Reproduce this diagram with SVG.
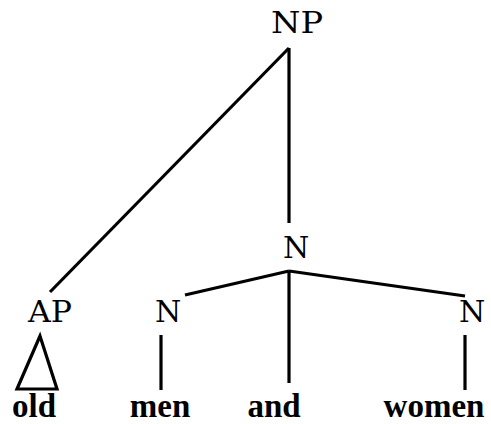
<svg xmlns="http://www.w3.org/2000/svg" width="491" height="424" viewBox="0 0 491 424">
<style>
text{font-family:"DejaVu Serif","Liberation Serif",serif;font-size:30px;fill:#000;text-anchor:middle}
.w{font-family:"Liberation Serif","DejaVu Serif",serif;font-weight:bold;font-size:33px}
.e{stroke:#000;stroke-width:3.2;fill:none;stroke-linecap:butt}
</style>
<rect width="491" height="424" fill="#fff"/>
<g id="connectors">
<line class="e" x1="289" y1="48" x2="50" y2="292"/>
<line class="e" x1="289" y1="48" x2="289" y2="223"/>
<line class="e" x1="289" y1="271" x2="185" y2="295"/>
<line class="e" x1="289" y1="271" x2="465" y2="296"/>
<line class="e" x1="289" y1="271" x2="289" y2="383"/>
<line class="e" x1="161" y1="335" x2="161" y2="390"/>
<line class="e" x1="465" y1="335" x2="465" y2="390"/>
<polygon class="e" points="40,336 17,389 57,389"/>
</g>
<g id="NP"><text x="297" y="33" textLength="52" lengthAdjust="spacingAndGlyphs">NP</text></g>
<g id="N"><text x="296" y="258">N</text></g>
<g id="AP"><text x="50" y="322" textLength="44" lengthAdjust="spacingAndGlyphs">AP</text></g>
<g id="N1"><text x="168" y="322">N</text></g>
<g id="N2"><text x="472" y="322">N</text></g>
<g id="old"><text class="w" x="34" y="417">old</text></g>
<g id="men"><text class="w" x="160" y="417">men</text></g>
<g id="and"><text class="w" x="274" y="417">and</text></g>
<g id="women"><text class="w" x="434" y="417">women</text></g>
</svg>
